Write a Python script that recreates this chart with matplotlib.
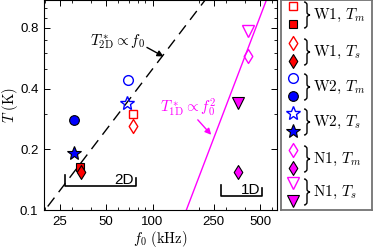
import numpy as np
import matplotlib
matplotlib.use('Agg')
import matplotlib.pyplot as plt
from matplotlib.path import Path
from matplotlib.patches import PathPatch
from matplotlib.ticker import FixedLocator, NullFormatter

plt.rcParams['mathtext.fontset'] = 'cm'
plt.rcParams['font.family'] = ['Liberation Sans', 'DejaVu Sans']

# frequency (kHz) and temperature (K); open = first value, filled = second
w1_tm_f = [75, 34];   w1_tm_T = [0.30, 0.164]
w1_ts_f = [75, 34.5]; w1_ts_T = [0.26, 0.155]
w2_tm_f = [69, 31];   w2_tm_T = [0.44, 0.28]
w2_ts_f = [68.5, 31]; w2_ts_T = [0.34, 0.192]
n1_tm_f = [420, 360]; n1_tm_T = [0.58, 0.155]
n1_ts_f = [415, 360]; n1_ts_T = [0.77, 0.34]

# guide lines: T2D = k2 * f0, T1D = 0.1 * (f0 / f1)^2
k2 = 0.005
f1 = 166.0

xticks = [25, 50, 100, 250, 500]
yticks = [0.1, 0.2, 0.4, 0.8]

RED, BLUE, MAG = '#ff0000', '#0000ff', '#ff00ff'
thin_d = Path([(0, 1), (0.62, 0), (0, -1), (-0.62, 0), (0, 1)],
              [Path.MOVETO, Path.LINETO, Path.LINETO, Path.LINETO, Path.CLOSEPOLY])

series = [
    ('W1', 'T_m', w1_tm_f, w1_tm_T, 's', 6, RED),
    ('W1', 'T_s', w1_ts_f, w1_ts_T, thin_d, 10, RED),
    ('W2', 'T_m', w2_tm_f, w2_tm_T, 'o', 7, BLUE),
    ('W2', 'T_s', w2_ts_f, w2_ts_T, '*', 10, BLUE),
    ('N1', 'T_m', n1_tm_f, n1_tm_T, thin_d, 10, MAG),
    ('N1', 'T_s', n1_ts_f, n1_ts_T, 'v', 8, MAG),
]

fig = plt.figure(figsize=(3.73, 2.49), dpi=100)
ax = fig.add_axes([44/373, 1-210/249, 233/373, 210/249])
ax.set_xscale('log')
ax.set_yscale('log')
ax.set_xlim(19.7, 645)
ax.set_ylim(0.1, 1.1)

ff = np.logspace(np.log10(15), np.log10(800), 200)
ax.plot(ff, k2*ff, color='k', lw=1.0, dashes=(8, 5))
ax.plot(ff, 0.1*(ff/f1)**2, color=MAG, lw=1.0)

for name, sub, f, T, m, ms, c in series:
    ax.plot(f[0], T[0], ls='none', marker=m, ms=ms, mfc='none', mec=c, mew=1.0)
    ax.plot(f[1], T[1], ls='none', marker=m, ms=ms, mfc=c, mec='k', mew=0.8)

# scale bars
ax.plot([27.1, 27.1, 78.6, 78.6], [0.149, 0.1316, 0.1316, 0.144], 'k-', lw=1.2)
ax.text(75, 0.1405, '2D', ha='right', va='center', fontsize=11)
ax.plot([277, 277, 516, 516], [0.133, 0.1174, 0.1174, 0.1287], 'k-', lw=1.2)
ax.text(500, 0.1255, '1D', ha='right', va='center', fontsize=11)

ax.text(58.8, 0.686, r'$T^*_{\rm 2D}\propto f_0$', fontsize=11, color='k',
        ha='center', va='center')
ax.annotate('', xy=(118, 0.577), xytext=(92, 0.64),
            arrowprops=dict(arrowstyle='-|>', color='k', lw=1.0, mutation_scale=9,
                            shrinkA=0, shrinkB=0))
ax.text(171, 0.322, r'$T^*_{\rm 1D}\propto f_0^2$', fontsize=11, color=MAG,
        ha='center', va='center')
ax.annotate('', xy=(241, 0.236), xytext=(197, 0.28),
            arrowprops=dict(arrowstyle='-|>', color=MAG, lw=1.0, mutation_scale=9,
                            shrinkA=0, shrinkB=0))

ax.xaxis.set_major_locator(FixedLocator(xticks))
ax.set_xticklabels([str(v) for v in xticks])
ax.xaxis.set_minor_locator(FixedLocator([20, 30, 40, 60, 70, 80, 90, 200, 300, 400, 600]))
ax.xaxis.set_minor_formatter(NullFormatter())
ax.yaxis.set_major_locator(FixedLocator(yticks))
ax.set_yticklabels([str(v) for v in yticks])
ax.yaxis.set_minor_locator(FixedLocator([0.3, 0.5, 0.6, 0.7, 0.9, 1.0]))
ax.yaxis.set_minor_formatter(NullFormatter())
ax.tick_params(which='both', direction='in', top=True, right=True, labelsize=9.5, pad=4)
ax.tick_params(which='major', length=4, width=0.7)
ax.tick_params(which='minor', length=2.5, width=0.6)
for s in ax.spines.values():
    s.set_linewidth(0.8)

ax.set_xlabel(r'$f_0\ \mathrm{(kHz)}$', fontsize=10.5, labelpad=1)
ax.set_ylabel(r'$T\ \mathrm{(K)}$', fontsize=10.5, labelpad=0)

# legend panel, in pixel coordinates
lg = fig.add_axes([281/373, 1-210/249, 91/373, 210/249])
lg.set_xlim(281, 372)
lg.set_ylim(210, 0)
lg.set_xticks([])
lg.set_yticks([])
for s in lg.spines.values():
    s.set_color('0.45')
    s.set_linewidth(1.3)


def brace(a, x, ytop, ybot, w):
    ym = (ytop + ybot) / 2
    xm = x + w / 2
    d = w * 0.5
    verts = [(x, ytop), (xm, ytop), (xm, ytop + d), (xm, ym - d), (xm, ym), (x + w, ym),
             (xm, ym), (xm, ym + d), (xm, ybot - d), (xm, ybot), (x, ybot)]
    codes = [Path.MOVETO, Path.CURVE3, Path.CURVE3, Path.LINETO, Path.CURVE3, Path.CURVE3,
             Path.CURVE3, Path.CURVE3, Path.LINETO, Path.CURVE3, Path.CURVE3]
    a.add_patch(PathPatch(Path(verts, codes), fc='none', ec='k', lw=1.0))


tops = [6, 43, 78, 113, 150, 183]
for (name, sub, f, T, m, ms, c), yt in zip(series, tops):
    yb = yt + 18
    lg.plot(293, yt, ls='none', marker=m, ms=ms, mfc='none', mec=c, mew=1.0)
    lg.plot(293, yb, ls='none', marker=m, ms=ms, mfc=c, mec='k', mew=0.8)
    brace(lg, 304, yt - 4, yb + 4, 6)
    lg.text(313, (yt + yb) / 2, r'$\mathrm{%s},\,%s$' % (name, sub), fontsize=11,
            ha='left', va='center')

fig.savefig('out.png', dpi=100)
